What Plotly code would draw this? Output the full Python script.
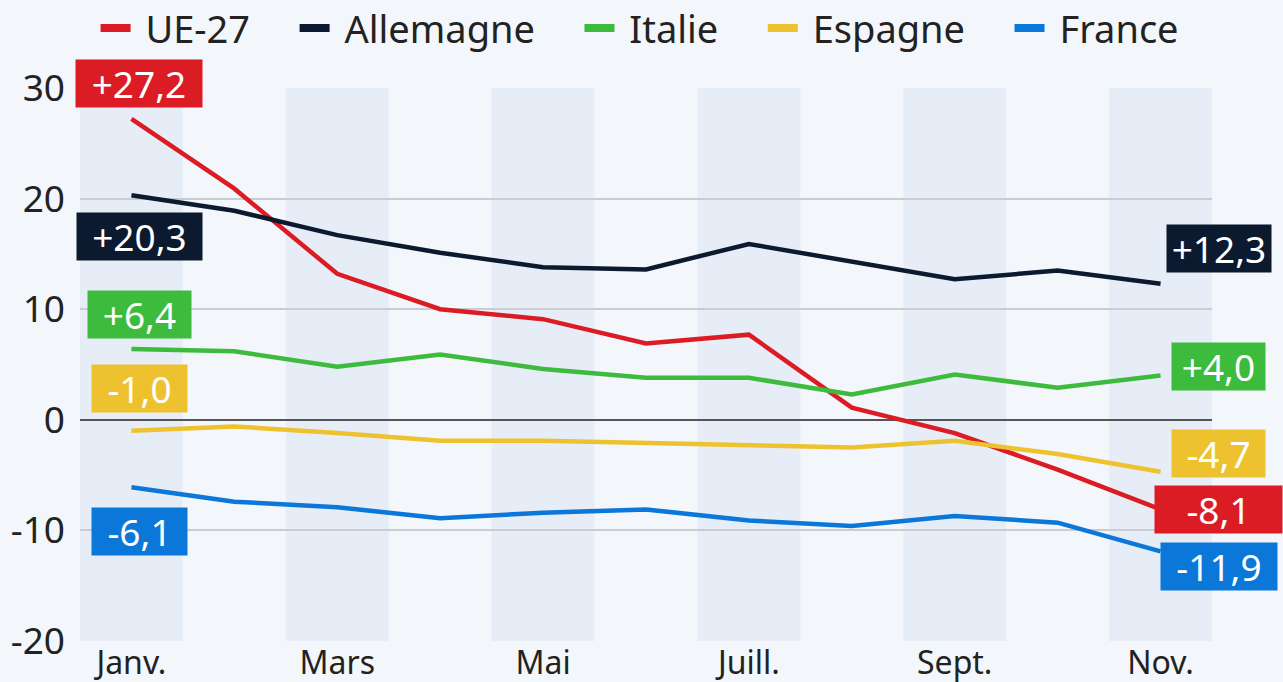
import plotly.graph_objects as go

months = ["Janv.", "Févr.", "Mars", "Avr.", "Mai", "Juin", "Juill.", "Août", "Sept.", "Oct.", "Nov."]
tick_labels = ["Janv.", "Mars", "Mai", "Juill.", "Sept.", "Nov."]
y_ticks = [-20, -10, 0, 10, 20, 30]

series_names = ["UE-27", "Allemagne", "Italie", "Espagne", "France"]
ue27 = [27.2, 20.9, 13.2, 10.0, 9.1, 6.9, 7.7, 1.1, -1.2, -4.5, -8.1]
allemagne = [20.3, 18.9, 16.7, 15.1, 13.8, 13.6, 15.9, 14.3, 12.7, 13.5, 12.3]
italie = [6.4, 6.2, 4.8, 5.9, 4.6, 3.8, 3.8, 2.3, 4.1, 2.9, 4.0]
espagne = [-1.0, -0.6, -1.2, -1.9, -1.9, -2.1, -2.2, -2.5, -1.9, -3.1, -4.7]
france = [-6.1, -7.4, -7.9, -8.9, -8.4, -8.1, -9.1, -9.6, -8.7, -9.3, -11.9]

colors = ["#dc1c24", "#0b1a2e", "#3dbb3d", "#eec22e", "#0b77d8"]
values = [ue27, allemagne, italie, espagne, france]

# label styling: pixel offsets and box widths (first point, last point)
first_shift = [35, -41, 35, 42, -44]
last_shift = [0, 35, 9, 18, -15]
first_width = [126, 125, 103, 95, 95]
last_width = [127, 104, 93, 93, 116]

FONT = "Noto Sans"
NBSP = "\u00a0"
x = list(range(len(months)))

fig = go.Figure()
for name, vals, col in zip(series_names, values, colors):
    fig.add_trace(go.Scatter(x=x, y=vals, mode="lines", name=name, showlegend=False,
                             line=dict(color=col, width=4.5)))
# legend entries (thick short dashes)
for name, col in zip(series_names, colors):
    fig.add_trace(go.Scatter(x=[None], y=[None], mode="lines", name=NBSP + name + NBSP * 4,
                             line=dict(color=col, width=8), showlegend=True))

# alternating background bands
for i in range(0, len(months), 2):
    fig.add_shape(type="rect", xref="x", yref="paper", x0=i - 0.5, x1=i + 0.5,
                  y0=0, y1=1, fillcolor="#e7edf6", line_width=0, layer="below")

def fmt(v):
    return f"{v:+.1f}".replace(".", ",")

for vals, col, fs, ls, fw, lw in zip(values, colors, first_shift, last_shift, first_width, last_width):
    fig.add_annotation(x=0, y=vals[0], text=fmt(vals[0]), showarrow=False,
                       xshift=8, yshift=fs, bgcolor=col, borderpad=0, width=fw, height=47,
                       font=dict(family=FONT, size=37, color="white"))
    fig.add_annotation(x=len(months) - 1, y=vals[-1], text=fmt(vals[-1]), showarrow=False,
                       xshift=58, yshift=ls, bgcolor=col, borderpad=0, width=lw, height=47,
                       font=dict(family=FONT, size=37, color="white"))

fig.update_layout(
    width=1283, height=682,
    paper_bgcolor="#f3f6fa", plot_bgcolor="#f3f6fa",
    margin=dict(l=80, r=71, t=88, b=41, autoexpand=False),
    font=dict(family=FONT, size=32, color="#222222"),
    showlegend=True,
    legend=dict(orientation="h", x=0.512, xanchor="center", y=1.108, yref="paper",
                yanchor="middle", font=dict(size=38, color="#222222"),
                bgcolor="rgba(0,0,0,0)", itemwidth=30, traceorder="normal"),
    xaxis=dict(range=[-0.5, 10.5], tickmode="array", tickvals=[0, 2, 4, 6, 8, 10],
               ticktext=tick_labels, showgrid=False, zeroline=False, showline=False,
               ticks="", tickfont=dict(size=32), automargin=False),
    yaxis=dict(range=[-20, 30], tickmode="array", tickvals=y_ticks,
               ticktext=[str(v) for v in y_ticks], showgrid=True,
               gridcolor="#c9ccd1", gridwidth=1.5, zeroline=True, zerolinecolor="#555555",
               zerolinewidth=1.5, ticks="", tickfont=dict(size=37), ticklabelstandoff=14,
               automargin=False),
)

fig.write_html("out.html", config={"displayModeBar": False},
               post_script="document.body.style.margin='0';document.body.style.background='#f3f6fa';")
